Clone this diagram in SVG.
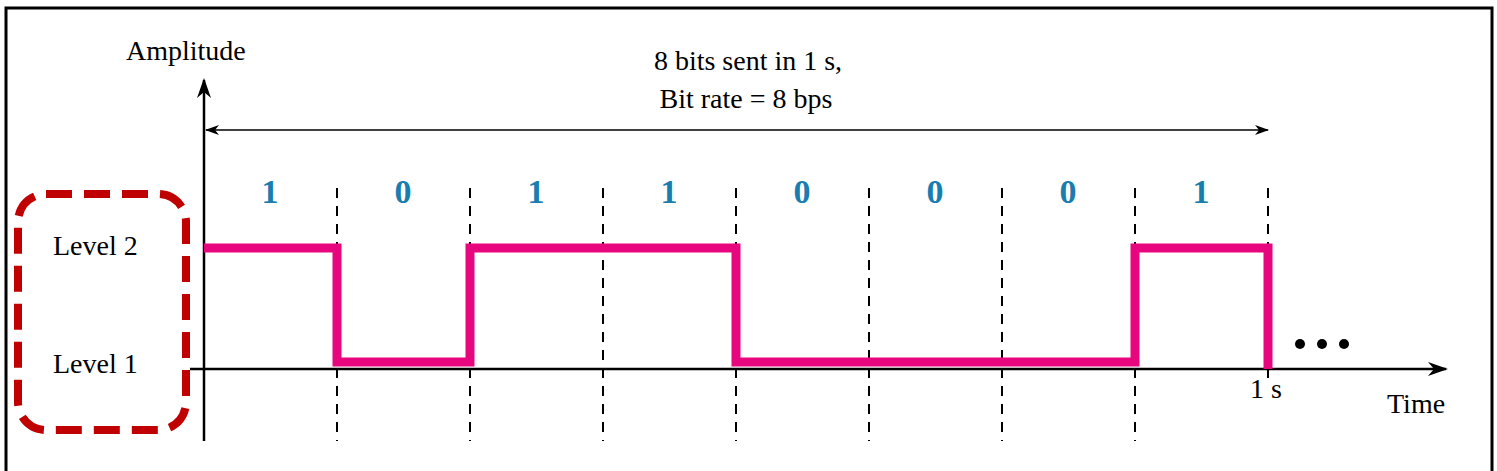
<svg xmlns="http://www.w3.org/2000/svg" width="1497" height="471" viewBox="0 0 1497 471">
<defs>
<style>
.t{font-family:"Liberation Serif",serif;font-size:28px;fill:#000}
.b{font-family:"Liberation Serif",serif;font-size:34px;font-weight:bold;fill:#1a7db0;text-anchor:middle}
.d{stroke:#000;stroke-width:2;stroke-dasharray:10,8}
</style>
<marker id="ah" viewBox="0 0 20 14" refX="18" refY="7" markerWidth="20" markerHeight="14" markerUnits="userSpaceOnUse" orient="auto-start-reverse"><path d="M0,0 L20,7 L0,14 L6,7 Z" fill="#000"/></marker>
<marker id="sa" viewBox="0 0 14 10" refX="13" refY="5" markerWidth="14" markerHeight="10" markerUnits="userSpaceOnUse" orient="auto-start-reverse"><path d="M0,0 L14,5 L0,10 L4,5 Z" fill="#000"/></marker>
</defs>
<rect x="6" y="8" width="1486" height="470" fill="#fff" stroke="#000" stroke-width="3"/>
<g id="connectors">
<g id="grid">
<line class="d" x1="337" y1="188" x2="337" y2="441"/>
<line class="d" x1="470" y1="188" x2="470" y2="441"/>
<line class="d" x1="603" y1="188" x2="603" y2="441"/>
<line class="d" x1="736" y1="188" x2="736" y2="441"/>
<line class="d" x1="869" y1="188" x2="869" y2="441"/>
<line class="d" x1="1002" y1="188" x2="1002" y2="441"/>
<line class="d" x1="1135" y1="188" x2="1135" y2="441"/>
<line class="d" x1="1268" y1="188" x2="1268" y2="380"/>
</g>
<line x1="204" y1="441" x2="204" y2="80" stroke="#000" stroke-width="2.5" marker-end="url(#ah)"/>
<line x1="190" y1="369" x2="1446" y2="369" stroke="#000" stroke-width="2.5" marker-end="url(#ah)"/>
<line x1="206" y1="130" x2="1268" y2="130" stroke="#000" stroke-width="1.5" marker-start="url(#sa)" marker-end="url(#sa)"/>
<path id="signal" d="M204,248 H337 V362 H470 V248 H736 V362 H1135 V248 H1268 V369" fill="none" stroke="#e8067e" stroke-width="9"/>
</g>
<g id="levels">
<rect x="18" y="194" width="168" height="236" rx="28" fill="none" stroke="#c00000" stroke-width="8" stroke-dasharray="26,12"/>
<text class="t" x="53" y="255">Level 2</text>
<text class="t" x="53" y="373">Level 1</text>
</g>
<g id="labels">
<text class="t" x="126" y="60">Amplitude</text>
<text class="t" x="748" y="70" text-anchor="middle">8 bits sent in 1 s,</text>
<text class="t" x="746" y="108" text-anchor="middle">Bit rate = 8 bps</text>
<text class="t" x="1250" y="398">1 s</text>
<text class="t" x="1387" y="413">Time</text>
<circle cx="1300" cy="344" r="5"/><circle cx="1322" cy="344" r="5"/><circle cx="1344" cy="344" r="5"/>
</g>
<g id="bits">
<text class="b" x="270" y="203">1</text>
<text class="b" x="403" y="203">0</text>
<text class="b" x="536" y="203">1</text>
<text class="b" x="669" y="203">1</text>
<text class="b" x="802" y="203">0</text>
<text class="b" x="935" y="203">0</text>
<text class="b" x="1068" y="203">0</text>
<text class="b" x="1201" y="203">1</text>
</g>
</svg>
